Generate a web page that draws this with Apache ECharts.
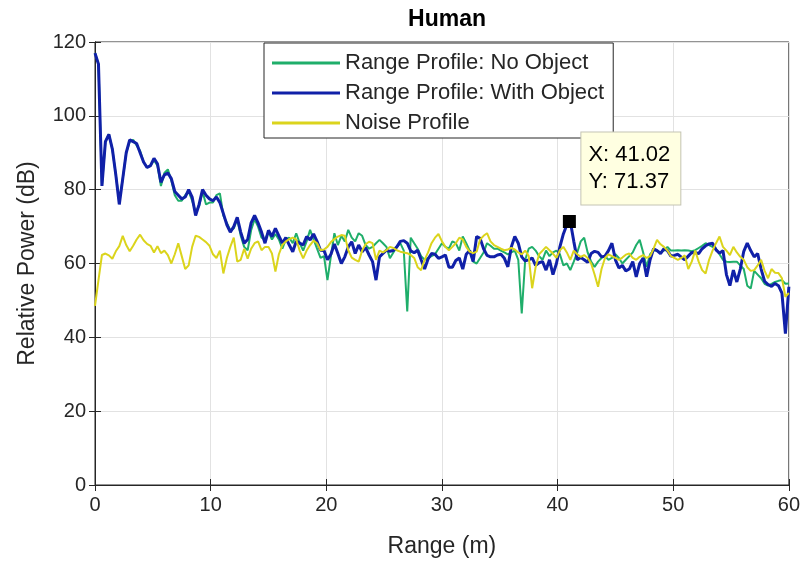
<!DOCTYPE html>
<html>
<head>
<meta charset="utf-8">
<script src="https://cdn.jsdelivr.net/npm/echarts@6/dist/echarts.min.js"></script>
<style>
  html, body { margin: 0; padding: 0; background: #ffffff; }
  #chart { width: 803px; height: 565px; }
</style>
</head>
<body>
<div id="chart"></div>
<script>
// range bins are 0.3 m apart, 0 .. 60 m
const rangeStep = 0.3;

const noObject = [
  117, 114, 81, 93, 95, 91, 84, 77, 83, 90,
  93, 93.5, 92, 90.5, 87.5, 86, 86.5, 88, 86.5, 81,
  84.5, 85.5, 82.5, 78.5, 77, 77, 78.5, 79.5, 77, 74,
  75.5, 79.5, 76, 76.5, 76.5, 78.5, 79, 73, 71, 69,
  69.5, 72, 67.5, 64.5, 63.6, 69, 72, 70, 67, 66.5,
  68.5, 66.5, 68, 66.5, 64, 66.5, 67, 65.5, 68.2, 65.5,
  63.5, 66, 69.1, 66.5, 64, 61.5, 62, 55.5, 62, 68.2,
  65, 67.5, 66, 69.1, 67, 66, 68.2, 67.5, 65, 64,
  64.5, 65.5, 66.4, 65.5, 64.5, 61.4, 63, 64.5, 65.5, 63.5,
  47, 67, 65.5, 64, 62, 61, 61.5, 62, 62.5, 64,
  65.5, 64.5, 64, 66, 65.5, 63.5, 67.3, 65.5, 63.5, 60.5,
  60, 61.5, 63, 65.5, 64.8, 64, 64, 63.5, 63, 62.5,
  63, 63.5, 61, 46.5, 61, 64, 64.5, 63.5, 62, 61,
  63.5, 62, 63, 63.5, 62.5, 59.5, 60, 58.2, 60.5, 63,
  66, 67, 63, 60.5, 59.1, 60.5, 61.5, 62, 61, 61.5,
  62.5, 61.5, 60, 61, 62, 63, 65, 66.4, 63, 59.1,
  62.5, 63.5, 63.5, 63, 63.5, 64.5, 63.5, 63.5, 63.6, 63.5,
  63.6, 63.5, 63.3, 63.6, 64.2, 64.8, 65.5, 65, 64.5, 64,
  62.5, 61, 60.5, 60.4, 60.5, 60.5, 59.5, 58.5, 54, 53.2,
  58, 57, 56, 54.5, 54, 54.5, 55, 55.3, 55.5, 54.5,
  54.6
];

const withObject = [
  117, 114, 81, 93, 95, 91, 84, 76, 83, 90,
  93.5, 93, 92.5, 90, 87.5, 86, 86.5, 88.5, 87, 82,
  84, 84.5, 83, 79.5, 78.5, 77.5, 78, 80, 78, 73,
  76, 80, 78.5, 77.5, 77, 78, 76.5, 73.5, 70.5, 68.5,
  70, 72.5, 68.5, 65.5, 66.5, 71, 73, 71, 68.5, 65.5,
  69, 67.3, 69.5, 67.5, 65.5, 67, 65, 63.2, 66, 65.5,
  65, 67.3, 66.4, 68, 66, 63.6, 63.5, 61, 62.5, 65.3,
  62.7, 60, 61.8, 64.5, 65.9, 62.7, 65, 63.2, 64.3, 62.3,
  60.5, 55.5, 61.8, 62.7, 63.6, 63.3, 63.5, 64.5, 66, 66.2,
  65.5, 63.4, 62.9, 63.6, 61, 58.5, 61.2, 62.7, 62.5, 61.4,
  61.8, 62.3, 59, 59, 60.8, 61.5, 58.5, 62.5, 63.5, 60.5,
  67.3, 66.8, 64, 62.2, 61.8, 61.8, 62.3, 62.5, 61.4, 59.1,
  64.5, 67.3, 65.5, 61.8, 60.7, 61, 61.5, 59.5, 60.2, 60.5,
  58.2, 61, 57, 60, 64.5, 68, 70.5, 71.4, 66, 61,
  61.6, 61, 60.3, 62.7, 63.3, 63, 61.8, 62, 63.5, 65.5,
  61, 58.8, 59.5, 58, 58.5, 60.5, 56.4, 60, 61.5, 56.4,
  61, 64, 63.5, 62.7, 64, 63.5, 62, 62.2, 62.5, 61.7,
  61, 62, 63, 62.9, 62.7, 64, 64.8, 65.3, 65.5, 63.7,
  62.8, 63.5, 57, 54, 58.2, 55, 58.5, 63.3, 65.5, 63.5,
  61.8, 62.7, 58.5, 55.2, 54.3, 53.8, 54.6, 54, 52, 41,
  53.7
];

const noiseProfile = [
  48.5, 55.5, 62.3, 62.7, 62.2, 61.3, 63.3, 64.7, 67.5, 65,
  63.3, 64.8, 66.5, 67.8, 66.3, 65.3, 64.8, 63, 64.7, 62.8,
  63.5, 62.3, 60, 62.5, 65.5, 62, 58.5, 59.5, 64.5, 67.5,
  67.2, 66.5, 65.8, 64.8, 62.5, 61.5, 63.5, 57.3, 61.5, 64.5,
  67, 60.5, 61, 64, 61.3, 64, 65.5, 66, 63.6, 64.5,
  64.5, 62.7, 57.8, 62.5, 65, 66, 66.6, 67, 66.5, 63.5,
  61.4, 63.5, 65, 66.2, 65.5, 63.6, 63.8, 64.5, 65.8, 66.6,
  67.3, 67.7, 67.5, 63.6, 61.6, 61, 60.5, 63.5, 65.2, 65.9,
  65.5, 61, 63.5, 63, 63.6, 64.5, 64.2, 63.6, 63.2, 63,
  62.8, 62.3, 61.5, 59, 58.2, 61, 63, 65.5, 67, 68,
  66, 64.5, 63.6, 64.5, 65.5, 67, 66.5, 64.5, 63.2, 62.8,
  63.2, 66.5, 67.5, 68.2, 66, 65, 64.5, 64, 63.6, 63.8,
  64.2, 63.8, 63, 62.5, 63.5, 62, 53.3, 59, 62.5, 63.5,
  64.5, 63.6, 62.7, 61.5, 63.6, 64.5, 63, 61, 63.5, 62.5,
  61.8, 62.3, 61.5, 60, 57, 53.7, 58.5, 61.5, 62.5, 62,
  61.5, 61, 61.6, 62.4, 62.7, 61.5, 61, 61.8, 62.3, 61.5,
  62, 64, 66.4, 65.2, 64.5, 63.5, 62, 61.5, 61, 61.5,
  62.2, 58.5, 60.5, 63.5, 60.5, 58.2, 57.3, 61, 63.5, 65.5,
  67.3, 64.5, 63.5, 62.3, 64.5, 63, 61.8, 61, 59, 58,
  58.2, 59.5, 61, 58, 56, 58.5, 57.5, 57.4, 56, 51,
  52
];

const seriesNames = ['Range Profile: No Object', 'Range Profile: With Object', 'Noise Profile'];
const dataTip = [41.02, 71.37];

const rangeM = withObject.map((_, i) => +(i * rangeStep).toFixed(2));
const pairs = vals => vals.map((v, i) => [rangeM[i], v]);

const font = "'Liberation Sans', Arial, Helvetica, sans-serif";
const axisColor = '#262626';
const gridColor = '#e2e2e2';

const chart = echarts.init(document.getElementById('chart'));

const option = {
  backgroundColor: '#ffffff',
  animation: false,
  title: {
    text: 'Human',
    left: 442,
    top: 3,
    textAlign: 'center',
    textStyle: { fontFamily: font, fontSize: 23, fontWeight: 'bold', color: '#000' }
  },
  legend: {
    orient: 'vertical',
    left: 264,
    top: 43,
    padding: [9, 9, 4, 8],
    itemGap: 8,
    itemWidth: 68,
    itemHeight: 3,
    icon: 'rect',
    backgroundColor: '#ffffff',
    borderColor: axisColor,
    borderWidth: 1,
    textStyle: { fontFamily: font, fontSize: 22, color: axisColor, lineHeight: 22 },
    data: seriesNames
  },
  grid: {
    left: 95,
    right: 14,
    top: 42,
    bottom: 80,
    show: true,
    borderColor: axisColor,
    borderWidth: 1
  },
  xAxis: [{
    type: 'value',
    min: 0,
    max: 60,
    interval: 10,
    name: 'Range (m)',
    nameLocation: 'middle',
    nameGap: 50,
    nameTextStyle: { fontFamily: font, fontSize: 23, color: axisColor },
    axisLine: { lineStyle: { color: axisColor } },
    axisTick: { inside: true, length: 6, lineStyle: { color: axisColor } },
    axisLabel: { fontFamily: font, fontSize: 20, color: axisColor, margin: 10 },
    splitLine: { lineStyle: { color: gridColor } }
  }, {
    type: 'value',
    position: 'top',
    min: 0,
    max: 60,
    interval: 10,
    axisLine: { lineStyle: { color: axisColor } },
    axisTick: { inside: true, length: 6, lineStyle: { color: axisColor } },
    axisLabel: { show: false },
    splitLine: { show: false }
  }],
  yAxis: [{
    type: 'value',
    min: 0,
    max: 120,
    interval: 20,
    name: 'Relative Power (dB)',
    nameLocation: 'middle',
    nameGap: 56,
    nameTextStyle: { fontFamily: font, fontSize: 23, color: axisColor },
    axisLine: { show: true, lineStyle: { color: axisColor } },
    axisTick: { show: true, inside: true, length: 6, lineStyle: { color: axisColor } },
    axisLabel: { fontFamily: font, fontSize: 20, color: axisColor, margin: 9 },
    splitLine: { lineStyle: { color: gridColor } }
  }, {
    type: 'value',
    position: 'right',
    min: 0,
    max: 120,
    interval: 20,
    axisLine: { show: true, lineStyle: { color: axisColor } },
    axisTick: { show: true, inside: true, length: 6, lineStyle: { color: axisColor } },
    axisLabel: { show: false },
    splitLine: { show: false }
  }],
  series: [
    {
      name: seriesNames[0],
      type: 'line',
      symbol: 'none',
      data: pairs(noObject),
      lineStyle: { width: 2, color: '#1fae6a' },
      itemStyle: { color: '#1fae6a' }
    },
    {
      name: seriesNames[1],
      type: 'line',
      symbol: 'none',
      data: pairs(withObject),
      lineStyle: { width: 3, color: '#1020a8' },
      itemStyle: { color: '#1020a8' },
      markPoint: {
        z: 10,
        symbol: 'rect',
        symbolSize: 13,
        itemStyle: { color: '#000000' },
        data: [{ coord: dataTip }],
        label: {
          show: true,
          position: 'inside',
          offset: [12, -53],
          formatter: 'X: ' + dataTip[0].toFixed(2) + '\nY: ' + dataTip[1].toFixed(2),
          fontFamily: font,
          fontSize: 22,
          lineHeight: 27,
          color: '#000000',
          backgroundColor: '#ffffe1',
          borderColor: '#c4c4b4',
          borderWidth: 1,
          padding: [9, 10, 9, 7],
          align: 'left'
        }
      }
    },
    {
      name: seriesNames[2],
      type: 'line',
      symbol: 'none',
      data: pairs(noiseProfile),
      lineStyle: { width: 2, color: '#dbd41c' },
      itemStyle: { color: '#dbd41c' }
    }
  ]
};

chart.setOption(option);
</script>
</body>
</html>
